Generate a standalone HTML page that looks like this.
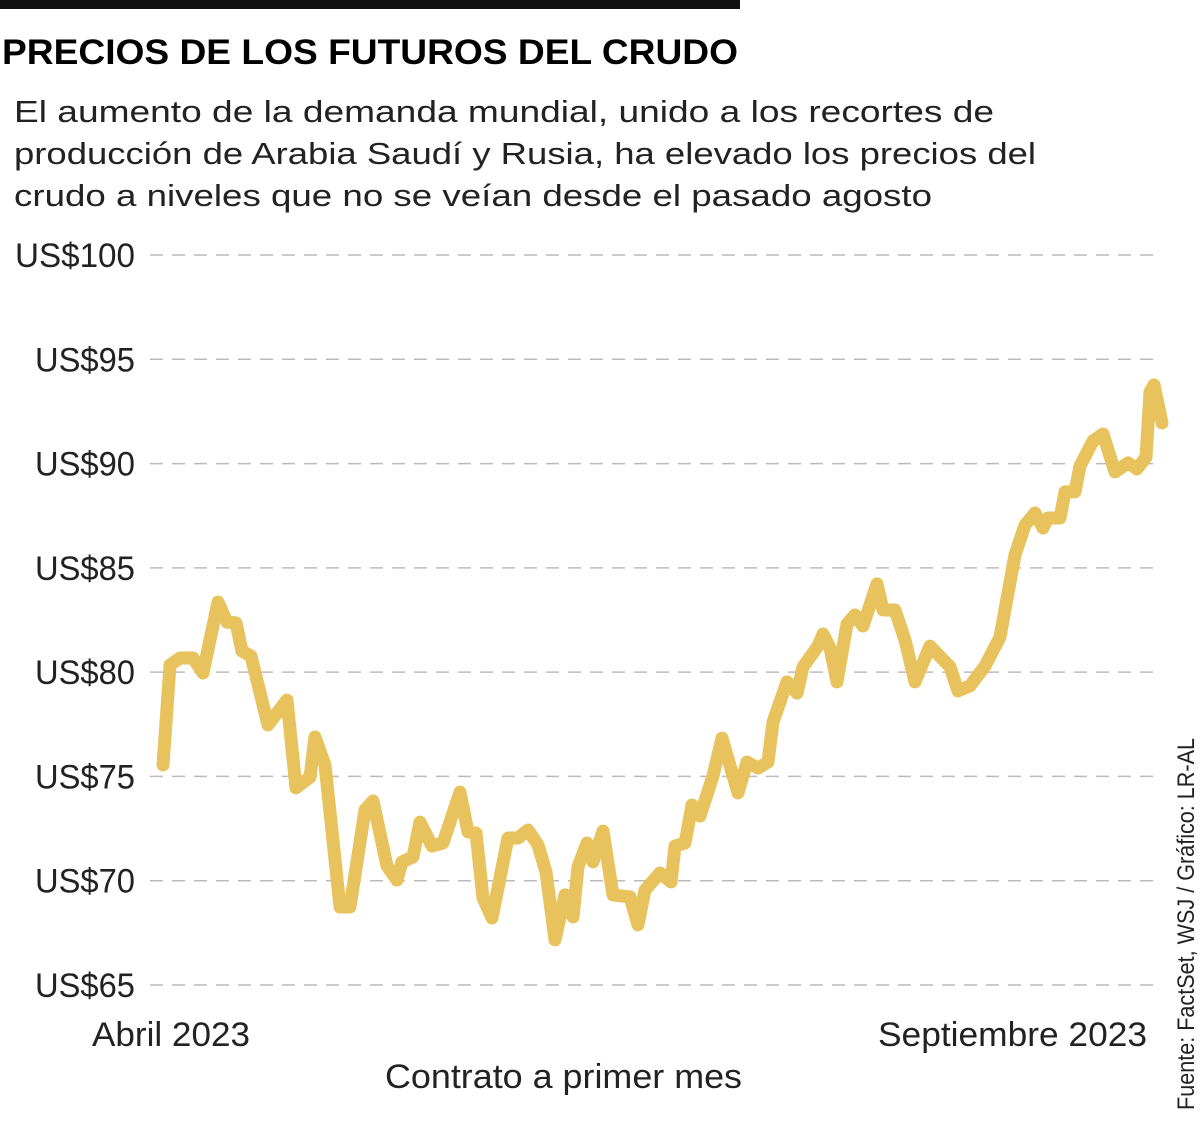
<!DOCTYPE html>
<html><head><meta charset="utf-8">
<style>
body{margin:0;width:1200px;height:1120px;background:#fff;overflow:hidden;font-family:"Liberation Sans",sans-serif;color:#111}
svg text{font-family:"Liberation Sans",sans-serif}
</style></head><body>
<svg width="1200" height="1120">
<rect x="0" y="0" width="740" height="9" fill="#111"/>
<text x="2" y="64" font-size="35" font-weight="bold" textLength="736" lengthAdjust="spacingAndGlyphs">PRECIOS DE LOS FUTUROS DEL CRUDO</text>
<g font-size="31" fill="#222">
<text x="14" y="122" textLength="980" lengthAdjust="spacingAndGlyphs">El aumento de la demanda mundial, unido a los recortes de</text>
<text x="14" y="164" textLength="1022" lengthAdjust="spacingAndGlyphs">producción de Arabia Saudí y Rusia, ha elevado los precios del</text>
<text x="14" y="206" textLength="918" lengthAdjust="spacingAndGlyphs">crudo a niveles que no se veían desde el pasado agosto</text>
</g>
<g id="grid"></g>
<g id="ylabels"></g>
<path id="line" fill="none" stroke="#e8c25c" stroke-width="13" stroke-linejoin="round" stroke-linecap="round"/>
<text x="92" y="1046" font-size="34" fill="#222" textLength="158" lengthAdjust="spacingAndGlyphs">Abril 2023</text>
<text x="878" y="1046" font-size="34" fill="#222" textLength="269" lengthAdjust="spacingAndGlyphs">Septiembre 2023</text>
<text x="385" y="1088" font-size="34" fill="#222" textLength="357" lengthAdjust="spacingAndGlyphs">Contrato a primer mes</text>
<text transform="translate(1194,1110) rotate(-90)" font-size="24" fill="#222" textLength="372" lengthAdjust="spacingAndGlyphs">Fuente: FactSet, WSJ / Gráfico: LR-AL</text>
</svg>
<script>
const yTicks=[65,70,75,80,85,90,95,100];
const yTickLabels=["US$65","US$70","US$75","US$80","US$85","US$90","US$95","US$100"];
const times=[0,7,17,30,40,55,64,73,79,88,105,124,133,147,152,162,177,187,202,210,224,234,239,250,257,269,280,297,305,313,320,329,345,355,365,375,383,392,402,410,415,424,430,440,450,467,475,482,497,508,512,522,529,537,550,559,575,584,595,605,610,624,634,640,655,660,667,674,684,692,700,714,720,732,742,752,767,787,795,807,822,837,852,862,872,880,885,897,902,912,917,930,940,952,965,974,983,987,991,999];
const prices=[75.55,80.34,80.68,80.68,79.96,83.36,82.40,82.36,81.01,80.77,77.47,78.66,74.45,74.97,76.89,75.55,68.74,68.74,73.39,73.82,70.71,70.03,70.90,71.14,72.81,71.66,71.81,74.25,72.34,72.29,69.17,68.21,72.05,72.05,72.43,71.71,70.42,67.16,69.32,68.26,70.66,71.81,70.90,72.38,69.32,69.22,67.88,69.55,70.37,69.94,71.66,71.81,73.63,73.10,75.02,76.84,74.21,75.69,75.40,75.69,77.61,79.53,79.00,80.25,81.25,81.83,81.16,79.53,82.31,82.74,82.21,84.23,82.98,82.98,81.54,79.53,81.25,80.25,79.10,79.34,80.29,81.68,85.62,87.05,87.63,86.91,87.39,87.39,88.64,88.64,89.88,91.08,91.42,89.60,90.03,89.74,90.31,93.43,93.77,91.95];
const xs=t=>163+(t-0)/(999-0)*(1162-163);
const ys=v=>985-(v-65)/(100-65)*(985-255);
const NS="http://www.w3.org/2000/svg";
const grid=document.getElementById('grid'),yl=document.getElementById('ylabels');
yTicks.forEach((v,i)=>{
 const l=document.createElementNS(NS,'line');
 l.setAttribute('x1',150);l.setAttribute('x2',1162);
 l.setAttribute('y1',ys(v));l.setAttribute('y2',ys(v));
 l.setAttribute('stroke','#bbb');l.setAttribute('stroke-width','1.5');l.setAttribute('stroke-dasharray','13 9');
 
 
 grid.appendChild(l);
 const t=document.createElementNS(NS,'text');
 const w=yTickLabels[i].length*20;
 t.setAttribute('x',135-w);t.setAttribute('y',ys(v)+12);
 t.setAttribute('font-size','34');t.setAttribute('fill','#222');
 t.setAttribute('textLength',w);t.setAttribute('lengthAdjust','spacingAndGlyphs');
 t.textContent=yTickLabels[i];
 
 
 yl.appendChild(t);
});
document.getElementById('line').setAttribute('d',times.map((t,i)=>(i?'L':'M')+xs(t).toFixed(1)+','+ys(prices[i]).toFixed(1)).join(''));
</script>
</body></html>
